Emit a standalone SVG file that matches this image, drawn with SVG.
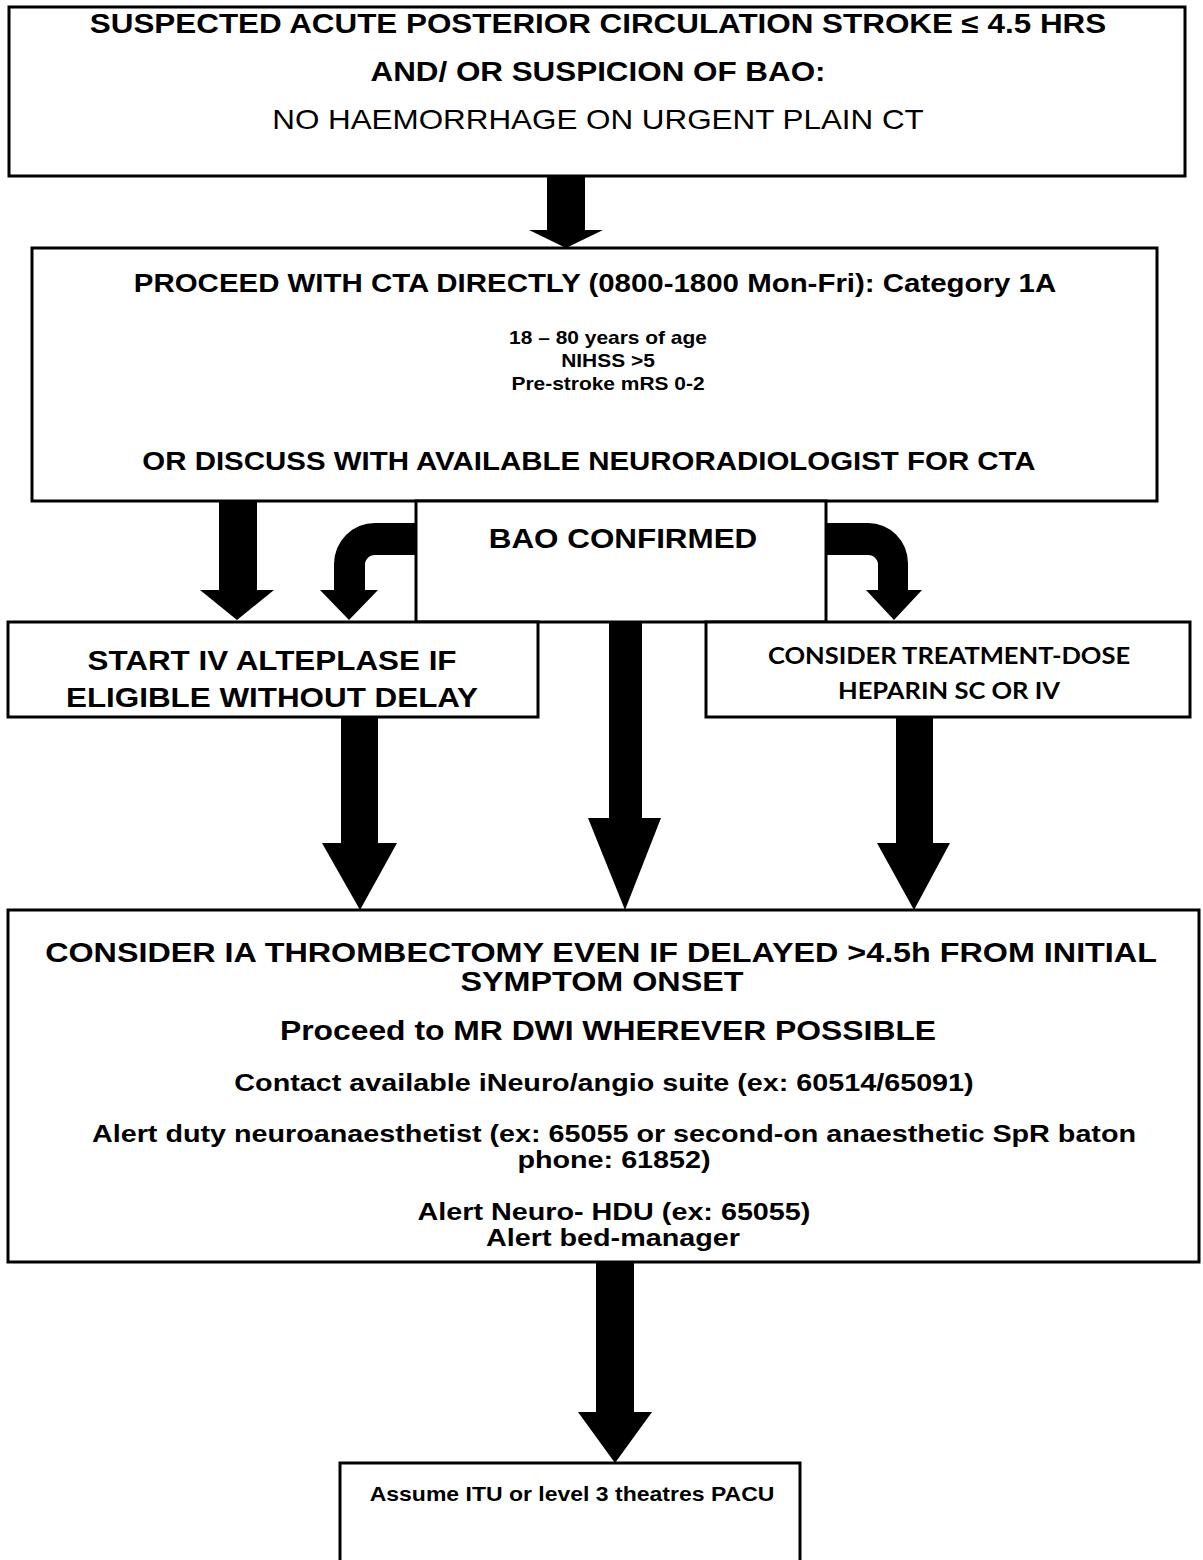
<svg xmlns="http://www.w3.org/2000/svg" width="1203" height="1560" viewBox="0 0 1203 1560">
<style>
.box{fill:#fff;stroke:#000;stroke-width:3}
.arr{fill:#000;stroke:none}
.t{font-family:"Liberation Sans",Arial,sans-serif;fill:#000;text-anchor:middle;font-weight:bold}
.r{font-weight:normal}
.c{font-family:Lato,"Liberation Sans",sans-serif;font-weight:bold;fill:#000;text-anchor:middle}
</style>
<rect width="1203" height="1560" fill="#fff"/>
<g id="n1">
<rect class="box" x="9" y="7" width="1176" height="169"/>
<text class="t" transform="translate(598 0) scale(1.15 1)" x="0" y="33" font-size="27.3">SUSPECTED ACUTE POSTERIOR CIRCULATION STROKE ≤ 4.5 HRS</text>
<text class="t" transform="translate(598 0) scale(1.15 1)" x="0" y="81" font-size="27.3">AND/ OR SUSPICION OF BAO:</text>
<text class="t r" transform="translate(598 0) scale(1.15 1)" x="0" y="129" font-size="27.3">NO HAEMORRHAGE ON URGENT PLAIN CT</text>
</g>
<g id="n2">
<rect class="box" x="32" y="248" width="1125" height="253"/>
<text class="t" transform="translate(595 0) scale(1.15 1)" x="0" y="292" font-size="25.6">PROCEED WITH CTA DIRECTLY (0800-1800 Mon-Fri): Category 1A</text>
<text class="t" transform="translate(608 0) scale(1.15 1)" x="0" y="344" font-size="18.2">18 – 80 years of age</text>
<text class="t" transform="translate(608 0) scale(1.15 1)" x="0" y="367" font-size="18.2">NIHSS &gt;5</text>
<text class="t" transform="translate(608 0) scale(1.15 1)" x="0" y="390" font-size="18.2">Pre-stroke mRS 0-2</text>
<text class="t" transform="translate(589 0) scale(1.15 1)" x="0" y="470" font-size="25.6">OR DISCUSS WITH AVAILABLE NEURORADIOLOGIST FOR CTA</text>
</g>
<g id="n3">
<rect class="box" x="416" y="501" width="410" height="121" stroke-width="2.5"/>
<text class="t" transform="translate(623 0) scale(1.15 1)" x="0" y="548" font-size="27.3">BAO CONFIRMED</text>
</g>
<g id="n4">
<rect class="box" x="8" y="622" width="530" height="95"/>
<text class="t" transform="translate(272 0) scale(1.15 1)" x="0" y="670" font-size="27.3">START IV ALTEPLASE IF</text>
<text class="t" transform="translate(272 0) scale(1.15 1)" x="0" y="707" font-size="27.3">ELIGIBLE WITHOUT DELAY</text>
</g>
<g id="n5">
<rect class="box" x="706" y="622" width="484" height="95"/>
<text class="c" transform="translate(949 0) scale(1.15 1)" x="0" y="664" font-size="22.2">CONSIDER TREATMENT-DOSE</text>
<text class="c" transform="translate(949 0) scale(1.15 1)" x="0" y="699" font-size="22.2">HEPARIN SC OR IV</text>
</g>
<g id="n6">
<rect class="box" x="8" y="910" width="1191" height="352"/>
<text class="t" transform="translate(601 0) scale(1.15 1)" x="0" y="962" font-size="28.1">CONSIDER IA THROMBECTOMY EVEN IF DELAYED &gt;4.5h FROM INITIAL</text>
<text class="t" transform="translate(602 0) scale(1.15 1)" x="0" y="991" font-size="28.1">SYMPTOM ONSET</text>
<text class="t" transform="translate(608 0) scale(1.15 1)" x="0" y="1040" font-size="27.7">Proceed to MR DWI WHEREVER POSSIBLE</text>
<text class="t" transform="translate(604 0) scale(1.25 1)" x="0" y="1091" font-size="23">Contact available iNeuro/angio suite (ex: 60514/65091)</text>
<text class="t" transform="translate(614 0) scale(1.25 1)" x="0" y="1142" font-size="23">Alert duty neuroanaesthetist (ex: 65055 or second-on anaesthetic SpR baton</text>
<text class="t" transform="translate(614 0) scale(1.25 1)" x="0" y="1168" font-size="23">phone: 61852)</text>
<text class="t" transform="translate(614 0) scale(1.25 1)" x="0" y="1220" font-size="23">Alert Neuro- HDU (ex: 65055)</text>
<text class="t" transform="translate(613 0) scale(1.25 1)" x="0" y="1246" font-size="23">Alert bed-manager</text>
</g>
<g id="n7">
<rect class="box" x="340" y="1463" width="460" height="110"/>
<text class="t" transform="translate(572 0) scale(1.15 1)" x="0" y="1501" font-size="20">Assume ITU or level 3 theatres PACU</text>
</g>
<g id="connectors">
<polygon class="arr" points="547,176 585,176 585,230 603,230 566,248 529,230 547,230"/>
<polygon class="arr" points="219,501 257,501 257,590 274,590 237,620 200,590 219,590"/>
<path class="arr" d="M416,523 L375,523 A41,41 0 0 0 334,564 L334,590 L320,590 L349,620 L378,590 L365,590 L365,566 A10,10 0 0 1 375,555 L416,555 Z"/>
<path class="arr" d="M826,523 L868,523 A40,40 0 0 1 908,563 L908,590 L922,590 L894,620 L866,590 L878,590 L878,566 A10,10 0 0 0 868,555 L826,555 Z"/>
<polygon class="arr" points="341,717 378,717 378,843 397,843 360,910 322,843 341,843"/>
<polygon class="arr" points="609,622 642,622 642,818 661,818 625,910 588,818 609,818"/>
<polygon class="arr" points="896,717 933,717 933,843 950,843 914,910 877,843 896,843"/>
<polygon class="arr" points="596,1262 634,1262 634,1412 652,1412 615,1463 578,1412 596,1412"/>
</g>
</svg>
